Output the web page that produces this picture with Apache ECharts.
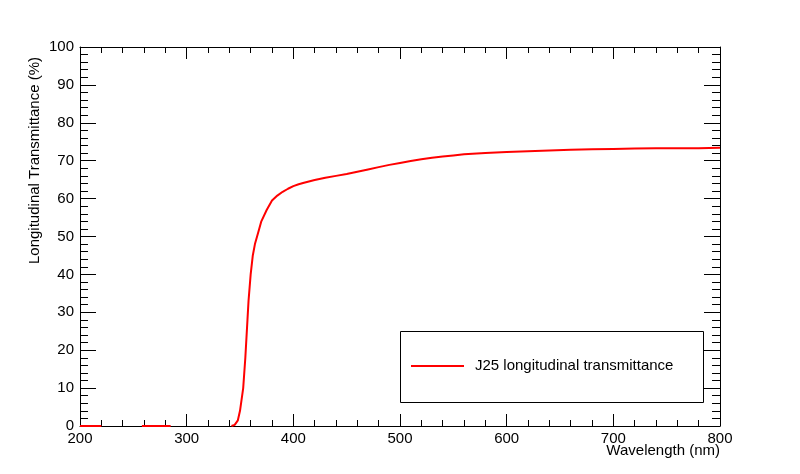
<!DOCTYPE html>
<html>
<head>
<meta charset="utf-8">
<script src="https://cdn.jsdelivr.net/npm/echarts@6/dist/echarts.min.js"></script>
<style>html,body{margin:0;padding:0;background:#fff}#main{width:800px;height:474px}</style>
</head>
<body>
<div id="main"></div>
<script>
// wavelength (nm) and transmittance (%)
var wavelength = [200, 210, 220, null, 258, 270, 285, null, 342, 345, 348, 350, 353, 355, 357, 358, 360, 362, 364, 367, 370, 375, 380, 385, 390, 395, 400, 405, 410, 420, 430, 440, 450, 460, 470, 480, 490, 500, 510, 520, 530, 540, 550, 560, 580, 600, 620, 640, 660, 680, 700, 720, 740, 760, 780, 800];
var transmit   = [0, 0, 0, null, 0, 0, 0, null, 0, 0.3, 1.5, 4, 10, 18, 28, 33, 40, 45, 48, 51, 54, 57, 59.5, 60.8, 61.8, 62.6, 63.3, 63.8, 64.2, 64.9, 65.5, 66.0, 66.5, 67.1, 67.7, 68.3, 68.9, 69.4, 69.9, 70.4, 70.8, 71.1, 71.4, 71.7, 72.0, 72.3, 72.5, 72.7, 72.9, 73.0, 73.1, 73.2, 73.3, 73.3, 73.3, 73.4];
var legendLabel = 'J25 longitudinal transmittance';

var pts = wavelength.map(function (w, i) { return w === null ? '-' : [w, transmit[i]]; });

var chart = echarts.init(document.getElementById('main'));
var font = 'Liberation Sans, Arial, sans-serif';
var tickIn = { show: true, inside: true, length: 12, lineStyle: { color: '#000' } };
var minorIn = { show: true, splitNumber: 5, length: 6, lineStyle: { color: '#000' } };

function xAx(pos, labels) {
  return {
    type: 'value', position: pos, min: 200, max: 800, interval: 100,
    axisLine: { show: true, onZero: false, lineStyle: { color: '#000', width: 1 } },
    axisTick: tickIn, minorTick: minorIn, splitLine: { show: false },
    axisLabel: { show: labels, color: '#000', fontFamily: font, fontSize: 15, margin: 5 }
  };
}
function yAx(pos, labels) {
  return {
    type: 'value', position: pos, min: 0, max: 100, interval: 10,
    axisLine: { show: true, onZero: false, lineStyle: { color: '#000', width: 1 } },
    axisTick: { show: true, inside: true, length: 16, lineStyle: { color: '#000' } },
    minorTick: { show: true, splitNumber: 5, length: 8, lineStyle: { color: '#000' } },
    splitLine: { show: false },
    axisLabel: { show: labels, color: '#000', fontFamily: font, fontSize: 15, margin: 6 }
  };
}

chart.setOption({
  animation: false,
  backgroundColor: '#fff',
  grid: { left: 80, right: 80, top: 47, bottom: 48 },
  xAxis: [xAx('bottom', true), xAx('top', false)],
  yAxis: [yAx('left', true), yAx('right', false)],
  series: [{
    type: 'line', data: pts, showSymbol: false, connectNulls: false,
    lineStyle: { color: '#ff0000', width: 2 }, clip: true
  }],
  graphic: [
    { type: 'text', right: 80, top: 443,
      style: { text: 'Wavelength (nm)', fill: '#000', font: '15px ' + font } },
    { type: 'text', x: 27, y: 264, rotation: Math.PI / 2, originX: 0, originY: 0,
      style: { text: 'Longitudinal Transmittance (%)', fill: '#000', font: '15px ' + font } },
    { type: 'rect', shape: { x: 400.5, y: 331.5, width: 303, height: 71 },
      style: { fill: '#fff', stroke: '#000', lineWidth: 1 } },
    { type: 'line', shape: { x1: 411, y1: 366, x2: 464, y2: 366 },
      style: { stroke: '#ff0000', lineWidth: 2 } },
    { type: 'text', x: 475, y: 358,
      style: { text: legendLabel, fill: '#000', font: '15px ' + font } }
  ]
});
</script>
</body>
</html>
